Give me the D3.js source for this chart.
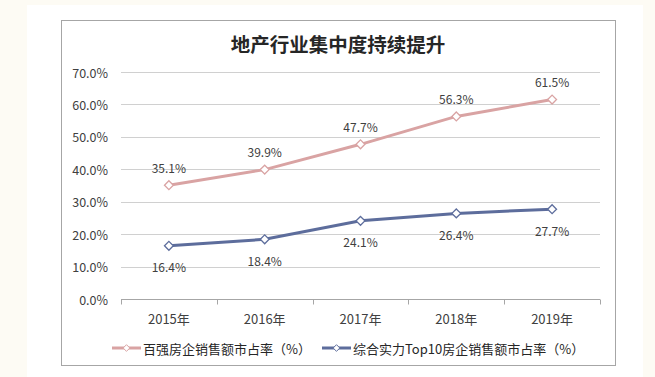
<!DOCTYPE html>
<html>
<head>
<meta charset="utf-8">
<script src="https://cdn.jsdelivr.net/npm/d3@7/dist/d3.min.js"></script>
<style>
  html, body { margin: 0; padding: 0; background: #fdfbf4; }
  svg { display: block; }
</style>
</head>
<body>
<svg id="chart" width="655" height="377"></svg>
<script>
var years = ['2015年', '2016年', '2017年', '2018年', '2019年'];
var top100Share = [35.1, 39.9, 47.7, 56.3, 61.5];
var top10Share = [16.4, 18.4, 24.1, 26.4, 27.7];
var yTicks = [0, 10, 20, 30, 40, 50, 60, 70];
var seriesNames = ['百强房企销售额市占率（%）', '综合实力Top10房企销售额市占率（%）'];

var
  svg = d3.select('#chart'),
  font = '"Noto Sans CJK SC", "Noto Sans", sans-serif',
  textColor = '#404040',
  colors = ['#d9a3a3', '#5d6d9c'],
  plot = {left: 121, right: 600, top: 72, bottom: 299}
  ;

// white panel and chart frame
svg.append('rect')
  .attr('x', 27).attr('y', 5)
  .attr('width', 616).attr('height', 372)
  .attr('fill', '#ffffff');

svg.append('rect')
  .attr('x', 61.5).attr('y', 20.5)
  .attr('width', 554).attr('height', 345)
  .attr('fill', '#ffffff')
  .attr('stroke', '#a6a6a6')
  .attr('stroke-width', 1);

svg.append('text')
  .attr('x', 338).attr('y', 43)
  .attr('text-anchor', 'middle')
  .attr('dominant-baseline', 'central')
  .attr('font-family', '"Noto Sans CJK SC", serif')
  .attr('font-weight', 700)
  .attr('font-size', 19.5)
  .attr('fill', '#262626')
  .text('地产行业集中度持续提升');

var xScale = d3.scaleBand().domain(years).range([plot.left, plot.right]);
var yScale = d3.scaleLinear().domain([0, 70]).range([plot.bottom, plot.top]);

function X(d, i) { return xScale(years[i]) + xScale.bandwidth() / 2; }
function Y(d) { return yScale(d); }

// gridlines
svg.append('g')
  .selectAll('line')
  .data(yTicks.filter(function(d){ return d > 0; }))
  .join('line')
  .attr('x1', plot.left).attr('x2', plot.right)
  .attr('y1', function(d){ return Math.round(Y(d)) + 0.5; })
  .attr('y2', function(d){ return Math.round(Y(d)) + 0.5; })
  .attr('stroke', '#d0d0d0')
  .attr('stroke-width', 1);

// y axis labels
svg.append('g')
  .selectAll('text')
  .data(yTicks)
  .join('text')
  .attr('x', 108)
  .attr('y', function(d){ return Y(d); })
  .attr('text-anchor', 'end')
  .attr('dominant-baseline', 'central')
  .attr('font-family', font)
  .attr('font-size', 12.5)
  .attr('fill', textColor)
  .text(function(d){ return d.toFixed(1) + '%'; });

// x axis
var axisX = d3.axisBottom(xScale).tickSize(0).tickFormat('');
var gx = svg.append('g')
  .attr('transform', 'translate(0,' + (Math.round(plot.bottom) + 0.5) + ')')
  .call(axisX);
gx.select('.domain').attr('stroke', '#a6a6a6').attr('d', 'M' + plot.left + ',0H' + plot.right);

var boundaries = d3.range(years.length + 1).map(function(i){
  return plot.left + i * xScale.bandwidth();
});
gx.selectAll('line.bound')
  .data(boundaries)
  .join('line')
  .attr('class', 'bound')
  .attr('x1', function(d){ return Math.round(d) + 0.5; })
  .attr('x2', function(d){ return Math.round(d) + 0.5; })
  .attr('y1', 0).attr('y2', 5)
  .attr('stroke', '#a6a6a6');

svg.append('g')
  .selectAll('text')
  .data(years)
  .join('text')
  .attr('x', function(d, i){ return X(d, i); })
  .attr('y', 318)
  .attr('text-anchor', 'middle')
  .attr('dominant-baseline', 'central')
  .attr('font-family', font)
  .attr('font-size', 13)
  .attr('fill', textColor)
  .text(function(d){ return d; });

var line = d3.line().x(function(d, i){ return X(d, i); }).y(Y);
var diamond = d3.symbol().type(d3.symbolDiamond2).size(50);

function drawSeries(values, color, labelOffset) {
  var g = svg.append('g');
  g.append('path')
    .attr('d', line(values))
    .attr('fill', 'none')
    .attr('stroke', color)
    .attr('stroke-width', 3);

  g.selectAll('path.marker')
    .data(values)
    .join('path')
    .attr('class', 'marker')
    .attr('d', diamond)
    .attr('transform', function(d, i){ return 'translate(' + X(d, i) + ',' + Y(d) + ')'; })
    .attr('fill', '#ffffff')
    .attr('stroke', color)
    .attr('stroke-width', 1.3);

  g.selectAll('text')
    .data(values)
    .join('text')
    .attr('x', function(d, i){ return X(d, i); })
    .attr('y', function(d){ return Y(d) + labelOffset; })
    .attr('text-anchor', 'middle')
    .attr('dominant-baseline', 'central')
    .attr('font-family', font)
    .attr('font-size', 12)
    .attr('fill', textColor)
    .text(function(d){ return d.toFixed(1) + '%'; });
}

drawSeries(top100Share, colors[0], -18);
drawSeries(top10Share, colors[1], 21);

// legend
var legendX = [112, 322];
var legend = svg.append('g')
  .selectAll('g')
  .data(seriesNames)
  .join('g')
  .attr('transform', function(d, i){ return 'translate(' + legendX[i] + ',348)'; });

legend.append('line')
  .attr('x1', 0).attr('x2', 29)
  .attr('stroke', function(d, i){ return colors[i]; })
  .attr('stroke-width', 3);
legend.append('path')
  .attr('d', d3.symbol().type(d3.symbolDiamond2).size(28))
  .attr('transform', 'translate(14.5,0)')
  .attr('fill', '#ffffff')
  .attr('stroke', function(d, i){ return colors[i]; })
  .attr('stroke-width', 1);
legend.append('text')
  .attr('x', 31)
  .attr('dominant-baseline', 'central')
  .attr('font-family', font)
  .attr('font-size', 13)
  .attr('fill', '#262626')
  .text(function(d){ return d; });
</script>
</body>
</html>
